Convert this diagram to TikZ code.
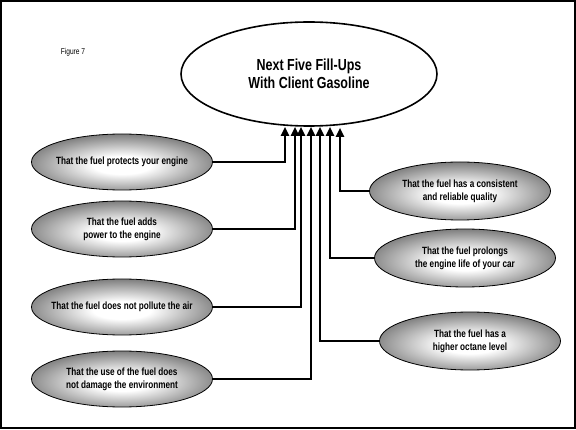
\documentclass[tikz,border=0pt]{standalone}
\usepackage{fontspec}
\usepackage{xcolor}
\usetikzlibrary{arrows.meta, positioning, shapes.geometric, calc}
\newfontfamily\condsans{Liberation Sans}[FakeStretch=0.78]
\definecolor{bubblegray}{HTML}{5E5E5E}
\pgfdeclareradialshading{bubble}{\pgfpoint{0bp}{-3bp}}{color(0bp)=(white); color(8bp)=(white); color(32bp)=(bubblegray); color(100bp)=(bubblegray)}

\begin{document}
\begin{tikzpicture}[
  x=1pt, y=1pt,
  every node/.style={font=\condsans},
  goalbox/.style={ellipse, draw=black, line width=1.6pt, fill=white, minimum width=256pt, minimum height=104pt, align=center, inner sep=0pt, font=\condsans\bfseries\fontsize{16}{18}\selectfont},
  reason/.style={ellipse, draw=black, line width=0.8pt, shading=bubble, minimum width=181pt, minimum height=56pt, align=center, inner ysep=0pt, inner xsep=-30pt, font=\condsans\bfseries\fontsize{10.5}{13}\selectfont},
  arrow/.style={-{Triangle[width=8pt, length=9pt]}, line width=2pt},
]
% frame
\useasboundingbox (0,0) rectangle (576,429);
\draw[line width=2pt] (1,1) rectangle (575,428);
\node[font=\condsans\fontsize{8.5}{10}\selectfont] (fig) at (73,377) {Figure 7};

\node[goalbox] (goal) at (309,355) {Next Five Fill-Ups\\With Client Gasoline};

% left side
\node[reason] (protect) at (122,267) {That the fuel protects your engine};
\node[reason] (power) at (122,200) {That the fuel adds\\power to the engine};
\node[reason] (air) at (122,122) {That the fuel does not pollute the air};
\node[reason] (environ) at (122,50) {That the use of the fuel does\\not damage the environment};

% right side
\node[reason, minimum height=58pt] (quality) at (460,238) {That the fuel has a consistent\\and reliable quality};
\node[reason, minimum height=58pt] (lifespan) at (465,171) {That the fuel prolongs\\the engine life of your car};
\node[reason, minimum height=58pt] (octane) at (470,88) {That the fuel has a\\higher octane level};

\draw[arrow] (protect.east) -| ($(goal.south)+(-24,0)$);
\draw[arrow] (power.east) -| ($(goal.south)+(-14,0)$);
\draw[arrow] (air.east) -| ($(goal.south)+(-8,0)$);
\draw[arrow] (environ.east) -| ($(goal.south)+(2,0)$);
\draw[arrow] (octane.west) -| ($(goal.south)+(11,0)$);
\draw[arrow] (lifespan.west) -| ($(goal.south)+(21,0)$);
\draw[arrow] (quality.west) -| ($(goal.south)+(31,-1)$);
\end{tikzpicture}
\end{document}
